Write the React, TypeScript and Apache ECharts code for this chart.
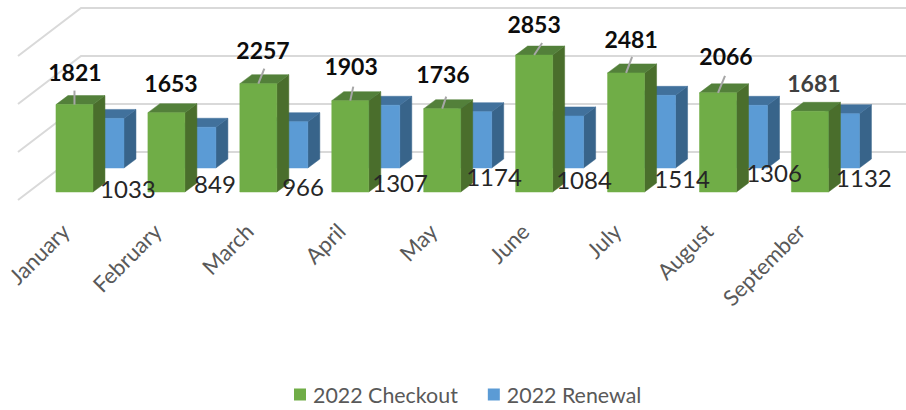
import React, { useEffect, useRef } from "react";
import * as echarts from "echarts";

const categories = ["January", "February", "March", "April", "May", "June", "July", "August", "September"];
const checkout = [1821, 1653, 2257, 1903, 1736, 2853, 2481, 2066, 1681];
const renewal = [1033, 849, 966, 1307, 1174, 1084, 1514, 1306, 1132];
const gridValues = [0, 1000, 2000, 3000];

// hand-placed label offsets from the top-centre of each bar's front face (as in the source chart)
const checkoutLabelOffset = [[0.5, -32.6], [4.6, -29.7], [4.7, -33.7], [0.8, -34.7], [0.8, -34.7], [0, -31], [5, -33.9], [8, -36.8], [4, -28.3]];
const renewalLabelOffset = [[22.5, 69.6], [17.6, 55.8], [13.7, 64.4], [18.8, 77.7], [20.8, 64.4], [18.9, 64], [25, 82.7], [25, 66.7], [23, 64.3]];
const leaderLines = [
  [[0, -14], [0, 0]], null, [[6, -15], [0, 0]], [[3, -14], [0, 0]], [[4, -12], [0, 0]],
  [[8, -12], [0, 0]], [[6, -16], [0, 0]], [[7, -17], [0, 0]], null,
];

const BAR_W = 37;
const DEPTH_X = 12;
const DEPTH_Y = 9;
const BLUE_DX = 31;
const BLUE_DY = -24;

function box(api: any, dx: number, dy: number, front: string, top: string, side: string) {
  const p = api.coord([api.value(0), api.value(1)]);
  const b = api.coord([api.value(0), 0]);
  const l = p[0] - BAR_W / 2 + dx;
  const r = l + BAR_W;
  const t = p[1] + dy;
  const y0 = b[1] + dy;
  const poly = (points: number[][], fill: string) => ({
    type: "polygon",
    shape: { points },
    style: { fill, stroke: fill, lineWidth: 0.5 },
  });
  return {
    type: "group",
    children: [
      poly([[r, t], [r + DEPTH_X, t - DEPTH_Y], [r + DEPTH_X, y0 - DEPTH_Y], [r, y0]], side),
      poly([[l, t], [l + DEPTH_X, t - DEPTH_Y], [r + DEPTH_X, t - DEPTH_Y], [r, t]], top),
      poly([[l, t], [r, t], [r, y0], [l, y0]], front),
    ],
  };
}

const checkoutLabelStyle = (i: number) =>
  i === 8
    ? { fill: "#404040", fontWeight: 700 }
    : { fill: "#0d0d0d", fontWeight: 700 };

export default function App() {
  const ref = useRef<HTMLDivElement>(null);
  useEffect(() => {
    document.body.style.margin = "0";
    const chart = echarts.init(ref.current!, undefined, { renderer: "svg" });
    chart.setOption({
      animation: false,
      backgroundColor: "#ffffff",
      textStyle: { fontFamily: "Lato" },
      grid: { left: 28.5, width: 827.4, top: 48, height: 144, containLabel: false },
      legend: {
        data: ["2022 Checkout", "2022 Renewal"],
        left: 289,
        top: 379,
        icon: "rect",
        itemWidth: 12,
        itemHeight: 12,
        itemGap: 30,
        textStyle: { color: "#595959", fontSize: 21.4, fontFamily: "Lato", padding: [0, 0, 0, 2] },
      },
      xAxis: {
        type: "category",
        data: categories,
        axisLine: { show: false },
        axisTick: { show: false },
        axisLabel: {
          rotate: 45,
          interval: 0,
          margin: 26,
          padding: [0, 13, 0, 0],
          color: "#595959",
          fontSize: 22,
          fontFamily: "Lato",
        },
      },
      yAxis: { type: "value", min: 0, max: 3000, interval: 1000, show: false, splitLine: { show: false } },
      series: [
        {
          type: "custom",
          name: "walls",
          silent: true,
          z: 1,
          data: gridValues.map((v) => [0, v]),
          encode: { x: 0, y: 1 },
          renderItem: (_: any, api: any) => {
            const y = api.coord([0, api.value(1)])[1];
            return {
              type: "polyline",
              shape: { points: [[18, y + 8], [81, y - 40], [906, y - 40]] },
              style: { stroke: "#d9d9d9", lineWidth: 2, fill: "none" },
            };
          },
        },
        {
          type: "custom",
          name: "2022 Renewal",
          z: 2,
          itemStyle: { color: "#5b9bd5" },
          data: renewal.map((v, i) => [i, v]),
          encode: { x: 0, y: 1 },
          renderItem: (_: any, api: any) => box(api, BLUE_DX, BLUE_DY, "#5b9bd5", "#41719c", "#38648a"),
        },
        {
          type: "custom",
          name: "2022 Checkout",
          z: 3,
          itemStyle: { color: "#70ad47" },
          data: checkout.map((v, i) => [i, v]),
          encode: { x: 0, y: 1 },
          renderItem: (_: any, api: any) => box(api, 0, 0, "#70ad47", "#53803a", "#4a6e2c"),
        },
        {
          type: "custom",
          name: "renewal labels",
          silent: true,
          z: 4,
          data: renewal.map((v, i) => [i, v]),
          encode: { x: 0, y: 1 },
          renderItem: (p: any, api: any) => {
            const c = api.coord([api.value(0), api.value(1)]);
            const off = renewalLabelOffset[p.dataIndex];
            return {
              type: "text",
              style: {
                x: c[0] + off[0] + BLUE_DX,
                y: c[1] + off[1] + BLUE_DY,
                text: String(api.value(1)),
                align: "center",
                verticalAlign: "middle",
                fontSize: 24,
                fontFamily: "Lato",
                fill: "#262626",
              },
            };
          },
        },
        {
          type: "custom",
          name: "checkout labels",
          silent: true,
          z: 5,
          data: checkout.map((v, i) => [i, v]),
          encode: { x: 0, y: 1 },
          renderItem: (p: any, api: any) => {
            const i = p.dataIndex;
            const c = api.coord([api.value(0), api.value(1)]);
            const off = checkoutLabelOffset[i];
            const leader = leaderLines[i];
            const children: any[] = [
              {
                type: "text",
                style: {
                  x: c[0] + off[0],
                  y: c[1] + off[1],
                  text: String(api.value(1)),
                  align: "center",
                  verticalAlign: "middle",
                  fontSize: 23,
                  fontFamily: "Lato",
                  ...checkoutLabelStyle(i),
                },
              },
            ];
            if (leader) {
              children.push({
                type: "line",
                shape: {
                  x1: c[0] + leader[0][0],
                  y1: c[1] + leader[0][1],
                  x2: c[0] + leader[1][0],
                  y2: c[1] + leader[1][1],
                },
                style: { stroke: "#a6a6a6", lineWidth: 2 },
              });
            }
            return { type: "group", children };
          },
        },
      ],
    });
    return () => chart.dispose();
  }, []);
  return <div ref={ref} style={{ width: 906, height: 410 }} />;
}
